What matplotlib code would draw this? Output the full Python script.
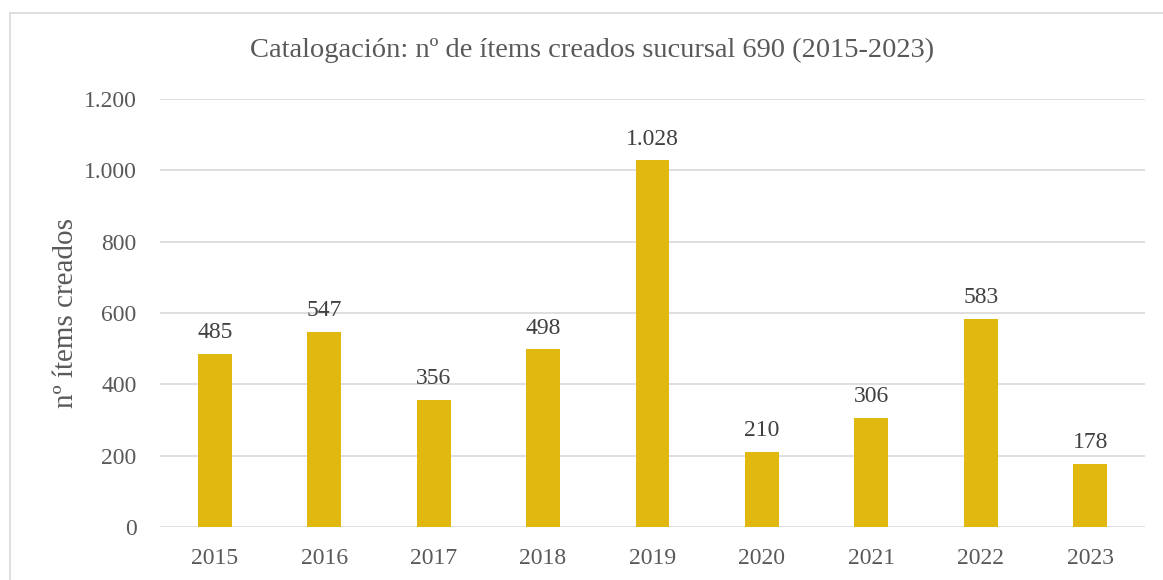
import matplotlib; matplotlib.use('Agg')
import matplotlib.pyplot as plt
from matplotlib.patches import Rectangle

years = ['2015', '2016', '2017', '2018', '2019', '2020', '2021', '2022', '2023']
items = [485, 547, 356, 498, 1028, 210, 306, 583, 178]
yticks = [0, 200, 400, 600, 800, 1000, 1200]

GREY = '#595959'
plt.rcParams['font.family'] = ['Liberation Serif', 'DejaVu Serif']

fig = plt.figure(figsize=(11.63, 5.80), dpi=100)
ax = fig.add_axes([160 / 1163, 53 / 580, 985 / 1163, 428 / 580])

# marco del gráfico
fig.patches.append(Rectangle((10 / 1163, -0.05), 1.2, 1 - 13 / 580 + 0.05,
                             transform=fig.transFigure, fill=False,
                             edgecolor='#D9D9D9', lw=1.2))

x = range(len(years))
ax.bar(x, items, width=0.31, color='#E0B80F', zorder=3)
for i, v in zip(x, items):
    ax.text(i, v + 30, f'{v:,}'.replace(',', '.'), ha='center', va='bottom',
            fontsize=17, color='#404040')

ax.set_xlim(-0.5, len(years) - 0.5)
ax.set_ylim(0, 1200)
ax.set_yticks(yticks)
ax.set_yticklabels([f'{t:,}'.replace(',', '.') for t in yticks])
ax.set_xticks(list(x))
ax.set_xticklabels(years)
ax.tick_params(axis='both', length=0, labelsize=17, colors=GREY)
ax.tick_params(axis='y', pad=17)
ax.tick_params(axis='x', pad=15)
ax.grid(axis='y', color='#D9D9D9', lw=1.2, zorder=0)
for s in ax.spines.values():
    s.set_visible(False)

ax.set_ylabel('nº ítems creados', fontsize=21, color=GREY, labelpad=3)
fig.text(592 / 1163, 1 - 50 / 580, 'Catalogación: nº de ítems creados sucursal 690 (2015-2023)',
         ha='center', va='center', fontsize=20.5, color=GREY)

plt.savefig('out.png', dpi=100)
